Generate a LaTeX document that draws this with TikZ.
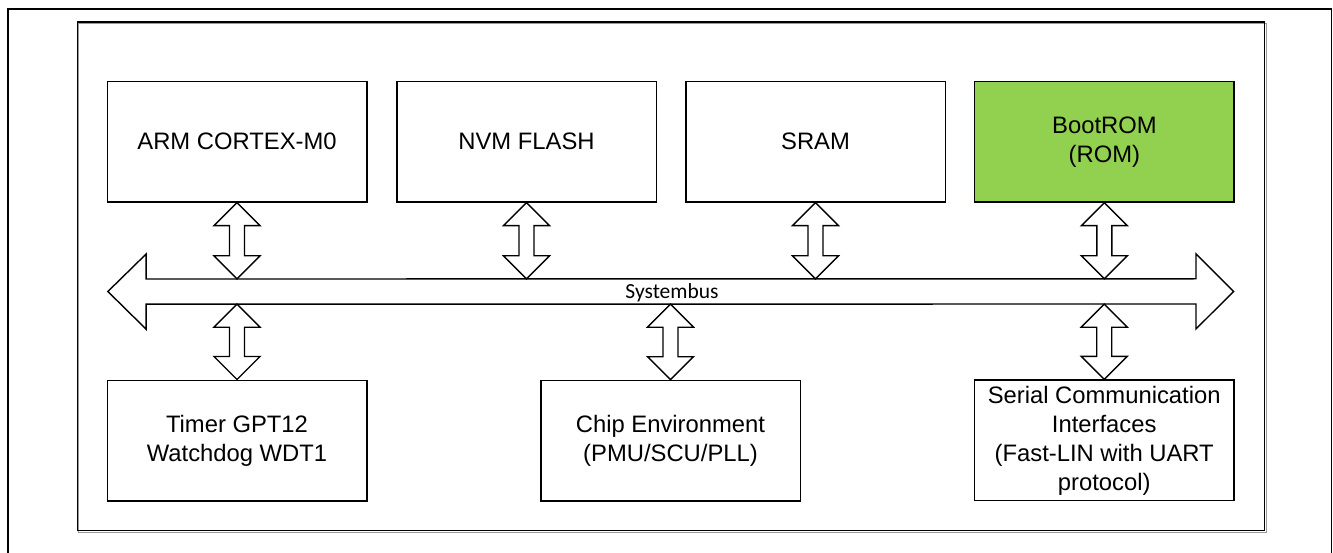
\documentclass[tikz,border=0pt]{standalone}
\usepackage{fontspec}
\setmainfont{Liberation Sans}
\newfontfamily\busfont{Carlito}
\usetikzlibrary{calc}
\definecolor{romgreen}{HTML}{92D050}
\tikzset{
  block/.style={draw=black, line width=1.5pt, minimum width=259.5pt,
    minimum height=120.5pt, inner sep=0pt, align=center,
    font=\fontsize{23.8}{29}\selectfont},
  busshape/.style={draw=black, line width=1.4pt, fill=white, line join=miter},
  frameline/.style={draw=black, line width=1.3pt},
  chipline/.style={draw=black, line width=1.5pt},
  chipshadow/.style={draw=black!40, line width=1.0pt},
  buslabel/.style={font=\busfont\fontsize{21.5}{26}\selectfont, inner sep=0pt}
}
% vertical two-headed connector between two points on the same x
\newcommand\busconn[2]{%
  \draw[busshape] (#1) -- ($(#1)+(23,23)$) -- ($(#1)+(7.5,23)$)
    -- ($(#2)+(7.5,-23)$) -- ($(#2)+(23,-23)$) -- (#2)
    -- ($(#2)+(-23,-23)$) -- ($(#2)+(-7.5,-23)$)
    -- ($(#1)+(-7.5,23)$) -- ($(#1)+(-23,23)$) -- cycle;}
\begin{document}
\begin{tikzpicture}[x=1pt,y=-1pt]
\useasboundingbox (0,0) rectangle (1333,553);

% page frame and chip outline with a soft shadow edge
\draw[frameline] (8,553) -- (8,9) -- (1331.5,9) -- (1331.5,553);
\draw[chipshadow] (78.8,23.3) rectangle (1266,532);
\draw[chipline] (77.5,22) rectangle (1264.7,530.7);

% memory and core blocks
\node[block] (arm)  at (237,141.7)   {ARM CORTEX-M0};
\node[block] (nvm)  at (526.5,141.7) {NVM FLASH};
\node[block] (sram) at (815.5,141.7) {SRAM};
\node[block, fill=romgreen] (rom) at (1104.4,141.7) {BootROM\\(ROM)};

% peripheral blocks
\node[block] (tim)  at (237,440.5)    {Timer GPT12\\Watchdog WDT1};
\node[block] (chip) at (670.5,440.7)  {Chip Environment\\(PMU/SCU/PLL)};
\node[block] (sci)  at (1104.2,440.4) {Serial Communication\\Interfaces\\(Fast-LIN with UART\\protocol)};

% system bus
\node[minimum width=1125.3pt, minimum height=25pt, inner sep=0pt] (bus) at (670.7,291.5) {};
\draw[busshape] (bus.west) -- ++(38.3,-37.5) -- ++(0,25)
  -- ($(bus.north east)+(-37.6,0)$) -- ++(0,-25) -- (bus.east)
  -- ++(-37.6,37.5) -- ++(0,-25) -- ($(bus.south west)+(38.3,0)$)
  -- ++(0,25) -- cycle;
\node[buslabel, anchor=base] (buslbl) at (672,298.5) {Systembus};

% bus connections
\coordinate (armb)  at (arm.south |- bus.north);
\coordinate (nvmb)  at (nvm.south |- bus.north);
\coordinate (sramb) at (sram.south |- bus.north);
\coordinate (romb)  at (rom.south |- bus.north);
\coordinate (timb)  at (tim.north |- bus.south);
\coordinate (chipb) at (chip.north |- bus.south);
\coordinate (scib)  at (sci.north |- bus.south);
\busconn{arm.south}{armb}
\busconn{nvm.south}{nvmb}
\busconn{sram.south}{sramb}
\busconn{rom.south}{romb}
\busconn{timb}{tim.north}
\busconn{chipb}{chip.north}
\busconn{scib}{sci.north}
\end{tikzpicture}
\end{document}
